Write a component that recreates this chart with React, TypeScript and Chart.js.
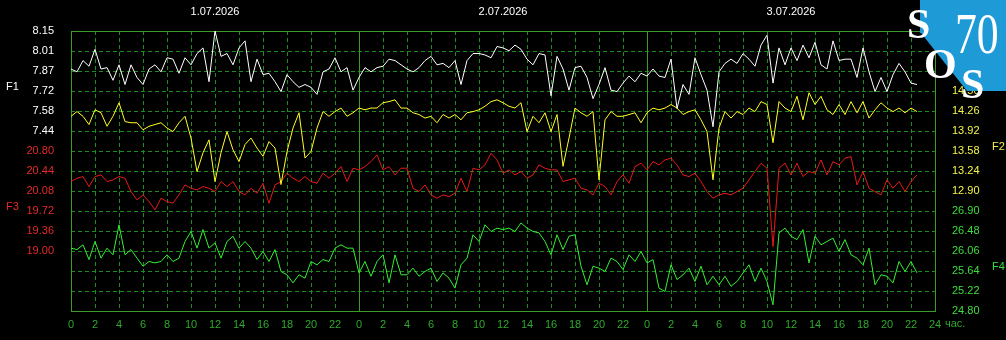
import React, { useEffect, useRef } from "react";
import { Chart, registerables } from "chart.js";

Chart.register(...registerables);

// ---------- data ----------
const STEP_HOURS = 0.5; // sampling interval of every series, hours from 1.07 00:00
const X_MAX_HOURS = 72;
const DATE_LABELS = ["1.07.2026", "2.07.2026", "3.07.2026"];
const HOURS_UNIT = "час.";
const SERIES_NAMES = ["F1", "F2", "F3", "F4"];

// left axis labels, one per grid row from the top (F1 rows then F3 rows)
const LEFT_TICK_LABELS = ["8.15", "8.01", "7.87", "7.72", "7.58", "7.44", "20.80", "20.44", "20.08", "19.72", "19.36", "19.00"];
// right axis labels, one per grid row from the top (F2 rows then F4 rows)
const RIGHT_TICK_LABELS = ["", "", "", "14.50", "14.26", "13.92", "13.58", "13.24", "12.90", "26.90", "26.48", "26.06", "25.64", "25.22", "24.80"];

// value ranges (bottom, top) of each series over the full plot height
const F1_RANGE = [6.162, 8.15];
const F2_RANGE = [10.86, 15.62];
const F3_RANGE = [17.92, 22.96];
const F4_RANGE = [24.8, 30.68];

const F1_VALUES = [
  7.88, 7.86, 7.94, 7.90, 8.02, 7.88, 7.89, 7.80, 7.91, 7.77,
  7.91, 7.82, 7.77, 7.88, 7.91, 7.86, 7.96, 7.95, 7.85, 7.96,
  7.91, 7.99, 8.03, 7.79, 8.15, 7.97, 7.99, 7.91, 8.03, 8.08,
  7.79, 7.95, 7.84, 7.85, 7.79, 7.72, 7.84, 7.79, 7.75, 7.77,
  7.75, 7.70, 7.86, 7.88, 7.96, 7.86, 7.89, 7.73, 7.82,
  7.89, 7.86, 7.89, 7.90, 7.95, 7.94, 7.91, 7.88, 7.86, 7.89,
  7.94, 7.97, 7.91, 7.92, 7.89, 7.94, 7.77, 7.94, 7.99, 7.99,
  7.98, 7.96, 8.04, 8.03, 8.01, 8.05, 8.02, 7.95, 7.91, 7.99,
  7.98, 7.69, 7.97, 7.88, 7.73, 7.89, 7.90, 7.82, 7.67, 7.77,
  7.89, 7.73, 7.72, 7.78, 7.83, 7.79, 7.85, 7.83,
  7.88, 7.83, 7.82, 7.95, 7.60, 7.77, 7.70, 7.96, 7.84, 7.73,
  7.47, 7.86, 7.92, 7.95, 7.92, 7.99, 7.95, 7.90, 8.05, 8.12,
  7.78, 8.03, 7.91, 8.03, 7.94, 8.05, 7.96, 8.07, 7.91, 7.88,
  8.08, 7.94, 7.95, 7.95, 7.82, 8.03, 7.86, 7.72, 7.82, 7.72,
  7.84, 7.92, 7.86, 7.78, 7.77,
];

const F2_VALUES = [
  14.17, 14.25, 14.17, 14.03, 14.28, 14.23, 14.00, 14.17, 14.40, 14.08,
  14.06, 14.06, 13.94, 14.00, 14.03, 14.06, 13.97, 13.91, 14.06, 14.17,
  13.80, 13.23, 13.55, 13.77, 13.06, 13.55, 13.91, 13.60, 13.40, 13.69,
  13.80, 13.63, 13.49, 13.74, 13.63, 13.01, 13.57, 13.97, 14.23, 13.46,
  13.57, 13.97, 14.25, 14.17, 14.25, 14.31, 14.17, 14.23, 14.31,
  14.28, 14.31, 14.31, 14.40, 14.42, 14.45, 14.31, 14.31, 14.23, 14.20,
  14.14, 14.17, 14.06, 14.20, 14.14, 14.20, 14.11, 14.23, 14.25, 14.28,
  14.34, 14.42, 14.45, 14.40, 14.34, 14.31, 14.40, 13.91, 14.17, 14.06,
  14.23, 13.91, 14.20, 13.32, 13.80, 14.31, 14.23, 14.17, 14.25, 13.09,
  14.11, 14.25, 14.17, 14.17, 14.20, 14.23, 14.06, 14.23,
  14.31, 14.28, 14.31, 14.37, 14.31, 14.20, 14.25, 14.28, 14.11, 13.91,
  13.09, 13.97, 14.25, 14.14, 14.25, 14.20, 14.31, 14.25, 14.42, 14.37,
  13.72, 14.42, 14.31, 14.25, 14.51, 14.11, 14.57, 14.37, 14.51, 14.28,
  14.20, 14.37, 14.20, 14.42, 14.23, 14.42, 14.14, 14.28, 14.40, 14.31,
  14.25, 14.31, 14.23, 14.31, 14.25,
];

const F3_VALUES = [
  20.25, 20.31, 20.34, 20.16, 20.34, 20.37, 20.25, 20.28, 20.34, 20.31,
  20.07, 19.92, 20.01, 19.89, 19.74, 19.95, 19.89, 19.86, 20.01, 20.19,
  20.13, 20.10, 20.16, 20.13, 20.07, 20.25, 20.16, 20.25, 20.07, 20.01,
  20.13, 20.04, 20.22, 19.86, 20.19, 20.25, 20.40, 20.31, 20.25, 20.34,
  20.25, 20.22, 20.40, 20.31, 20.40, 20.52, 20.25, 20.49, 20.46,
  20.52, 20.61, 20.73, 20.46, 20.52, 20.37, 20.49, 20.49, 20.13, 20.07,
  20.19, 20.01, 19.95, 20.01, 19.98, 20.04, 20.31, 20.07, 20.49, 20.46,
  20.55, 20.76, 20.64, 20.40, 20.46, 20.37, 20.43, 20.31, 20.37, 20.55,
  20.49, 20.46, 20.46, 20.25, 20.28, 20.31, 20.13, 20.10, 20.01, 20.22,
  20.16, 20.01, 20.25, 20.37, 20.22, 20.52, 20.58, 20.46,
  20.61, 20.55, 20.64, 20.67, 20.55, 20.37, 20.34, 20.40, 20.25, 20.07,
  19.95, 20.01, 20.04, 20.01, 20.07, 20.13, 20.28, 20.43, 20.58, 20.49,
  19.08, 20.49, 20.58, 20.37, 20.58, 20.34, 20.43, 20.40, 20.64, 20.37,
  20.61, 20.55, 20.67, 20.70, 20.19, 20.43, 20.13, 20.07, 20.01, 20.28,
  20.13, 20.25, 20.07, 20.25, 20.37,
];

const F4_VALUES = [
  26.12, 26.09, 26.19, 25.88, 26.26, 25.91, 26.12, 25.98, 26.61, 25.98,
  26.09, 25.91, 25.74, 25.84, 25.81, 25.84, 25.98, 25.84, 25.91, 26.26,
  26.47, 26.12, 26.51, 26.12, 26.23, 25.91, 26.26, 26.37, 26.12, 26.26,
  26.12, 25.88, 26.05, 25.84, 26.09, 25.63, 25.56, 25.39, 25.56, 25.49,
  25.84, 25.77, 25.88, 25.84, 26.12, 26.19, 26.12, 26.12, 25.60,
  25.84, 25.53, 25.84, 25.98, 25.39, 25.98, 25.56, 25.56, 25.70, 25.53,
  25.63, 25.70, 25.42, 25.60, 25.49, 25.28, 25.77, 25.91, 26.40, 26.26,
  26.61, 26.47, 26.54, 26.51, 26.54, 26.47, 26.65, 26.54, 26.47, 26.44,
  26.26, 25.98, 26.40, 26.09, 26.37, 26.40, 25.74, 25.35, 25.74, 25.70,
  25.63, 25.91, 25.84, 25.67, 25.98, 25.84, 26.05, 25.81,
  25.88, 25.28, 25.21, 25.77, 25.46, 25.56, 25.70, 25.42, 25.74, 25.35,
  25.53, 25.35, 25.53, 25.32, 25.42, 25.60, 25.77, 25.42, 25.70, 25.42,
  24.93, 26.44, 26.54, 26.37, 26.30, 26.51, 25.81, 26.37, 26.19, 26.26,
  26.33, 26.05, 26.30, 25.98, 25.91, 25.77, 26.12, 25.35, 25.56, 25.53,
  25.39, 25.84, 25.63, 25.84, 25.60,
];

// ---------- styles ----------
const FONT = '"Liberation Sans", Arial, sans-serif';
const GRID_COLOR = "#1e8c1e";
const AXIS_COLOR = "#3c9c28";
const X_LABEL_COLOR = "#2fa82f";
const F1_COLOR = "#ffffff";
const F2_COLOR = "#ffff22";
const F2_LABEL = "#f4f44a";
const F3_COLOR = "#e81818";
const F3_LABEL = "#e62a2a";
const F4_COLOR = "#33f033";
const F4_LABEL = "#3ede3e";
const LOGO_BLUE = "#1e9bd7";
const GRID_ROWS = 14;
const DASH_ON = 4;
const DASH_OFF = 3;

const toPoints = (vals: number[]) => vals.map((v, i) => ({ x: i * STEP_HOURS, y: v }));

const decorPlugin = {
  id: "decor",
  beforeDraw(chart: any) {
    const { ctx, width, height } = chart;
    ctx.save();
    ctx.fillStyle = "#000";
    ctx.fillRect(0, 0, width, height);
    ctx.restore();
  },
  beforeDatasetsDraw(chart: any) {
    const { ctx, chartArea: a, scales } = chart;
    const xs = scales.x;
    const gs = scales.gl;
    const L = Math.round(a.left);
    const R = Math.round(a.right);
    const T = Math.round(a.top);
    const B = Math.round(a.bottom);
    ctx.save();
    ctx.fillStyle = GRID_COLOR;
    for (let g = 1; g < GRID_ROWS; g++) {
      const y = Math.round(gs.getPixelForValue(g));
      for (let x = L; x < R; x += DASH_ON + DASH_OFF) ctx.fillRect(x, y, Math.min(DASH_ON, R - x), 1);
    }
    for (let h = 2; h < X_MAX_HOURS; h += 2) {
      if (h % 24 === 0) continue;
      const x = Math.round(xs.getPixelForValue(h));
      for (let y = T; y < B; y += DASH_ON + DASH_OFF) ctx.fillRect(x, y, 1, Math.min(DASH_ON, B - y));
    }
    ctx.fillStyle = AXIS_COLOR;
    for (let h = 0; h <= X_MAX_HOURS; h += 24) {
      const x = Math.round(xs.getPixelForValue(h));
      ctx.fillRect(x, T, 1, B - T + 1);
    }
    ctx.fillRect(L, T, R - L + 1, 1);
    ctx.fillRect(L, B, R - L + 1, 1);
    ctx.restore();
  },
  afterDraw(chart: any) {
    const { ctx, chartArea: a, scales, width } = chart;
    const xs = scales.x;
    const gs = scales.gl;
    ctx.save();
    ctx.font = `11px ${FONT}`;
    ctx.textBaseline = "middle";
    // dates
    ctx.fillStyle = "#ffffff";
    ctx.textAlign = "center";
    DATE_LABELS.forEach((d, i) => ctx.fillText(d, xs.getPixelForValue(12 + 24 * i), 12));
    // series names
    ctx.textAlign = "left";
    ctx.fillStyle = F1_COLOR;
    ctx.fillText(SERIES_NAMES[0], 6, gs.getPixelForValue(2.8));
    ctx.fillStyle = F3_LABEL;
    ctx.fillText(SERIES_NAMES[2], 6, gs.getPixelForValue(8.8));
    ctx.fillStyle = F2_LABEL;
    ctx.fillText(SERIES_NAMES[1], a.right + 57, gs.getPixelForValue(5.8));
    ctx.fillStyle = F4_LABEL;
    ctx.fillText(SERIES_NAMES[3], a.right + 57, gs.getPixelForValue(11.8));
    // hours unit
    ctx.fillStyle = X_LABEL_COLOR;
    ctx.textBaseline = "top";
    ctx.fillText(HOURS_UNIT, a.right + 10, a.bottom + 7);
    // logo
    const L = width - 86;
    ctx.fillStyle = LOGO_BLUE;
    ctx.beginPath();
    ctx.moveTo(L, 0);
    ctx.lineTo(width, 0);
    ctx.lineTo(width, 91);
    ctx.lineTo(L + 47, 91);
    ctx.lineTo(L + 1, 33);
    ctx.lineTo(L, 33);
    ctx.closePath();
    ctx.fill();
    ctx.fillStyle = "#ffffff";
    ctx.textBaseline = "alphabetic";
    ctx.textAlign = "left";
    ctx.font = 'bold 42px "Liberation Serif", "DejaVu Serif", serif';
    ctx.fillText("S", L - 13, 38);
    ctx.fillText("O", L + 4, 78);
    ctx.fillText("S", L + 41, 98);
    ctx.translate(L + 35, 53);
    ctx.scale(0.78, 1);
    ctx.font = '56px "Liberation Serif", "DejaVu Serif", serif';
    ctx.fillText("70", 0, 0);
    ctx.restore();
  },
};

export default function App() {
  const ref = useRef<HTMLCanvasElement>(null);
  useEffect(() => {
    document.body.style.margin = "0";
    document.body.style.background = "#000";
    const dataset = (label: string, vals: number[], color: string, axis: string) => ({
      label,
      data: toPoints(vals),
      borderColor: color,
      borderWidth: 1,
      pointRadius: 0,
      fill: false,
      tension: 0,
      yAxisID: axis,
    });
    const hidden = (range: number[]) => ({ type: "linear", display: false, min: range[0], max: range[1] });
    const chart = new Chart(ref.current as HTMLCanvasElement, {
      type: "line",
      data: {
        datasets: [
          dataset(SERIES_NAMES[0], F1_VALUES, F1_COLOR, "y1"),
          dataset(SERIES_NAMES[1], F2_VALUES, F2_COLOR, "y2"),
          dataset(SERIES_NAMES[2], F3_VALUES, F3_COLOR, "y3"),
          dataset(SERIES_NAMES[3], F4_VALUES, F4_COLOR, "y4"),
        ],
      },
      options: {
        animation: false,
        responsive: false,
        devicePixelRatio: 1,
        events: [],
        layout: { padding: { top: 31, left: 0, right: 0, bottom: 0 } },
        plugins: { legend: { display: false }, tooltip: { enabled: false } },
        scales: {
          x: {
            type: "linear",
            min: 0,
            max: X_MAX_HOURS,
            grid: { display: false, drawTicks: false },
            border: { display: false },
            ticks: {
              stepSize: 2,
              autoSkip: false,
              maxRotation: 0,
              padding: 7,
              color: X_LABEL_COLOR,
              font: { family: FONT, size: 11 },
              callback: (v: any) => (v === X_MAX_HOURS ? "24" : String(Number(v) % 24)),
            },
            afterFit: (s: any) => {
              s.height = 29;
            },
          },
          gl: {
            type: "linear",
            position: "left",
            min: 0,
            max: GRID_ROWS,
            reverse: true,
            grid: { display: false, drawTicks: false },
            border: { display: false },
            ticks: {
              stepSize: 1,
              autoSkip: false,
              padding: 17,
              font: { family: FONT, size: 11 },
              color: (c: any) => (c.tick && c.tick.value < 6 ? F1_COLOR : F3_LABEL),
              callback: (v: any) => LEFT_TICK_LABELS[Number(v)] ?? "",
            },
            afterFit: (s: any) => {
              s.width = 71;
            },
          },
          gr: {
            type: "linear",
            position: "right",
            min: 0,
            max: GRID_ROWS,
            reverse: true,
            grid: { display: false, drawTicks: false },
            border: { display: false },
            ticks: {
              stepSize: 1,
              autoSkip: false,
              padding: 17,
              font: { family: FONT, size: 11 },
              color: (c: any) => (c.tick && c.tick.value <= 8 ? F2_LABEL : F4_LABEL),
              callback: (v: any) => RIGHT_TICK_LABELS[Number(v)] ?? "",
            },
            afterFit: (s: any) => {
              s.width = 71;
            },
          },
          y1: hidden(F1_RANGE),
          y2: hidden(F2_RANGE),
          y3: hidden(F3_RANGE),
          y4: hidden(F4_RANGE),
        },
      } as any,
      plugins: [decorPlugin],
    } as any);
    return () => chart.destroy();
  }, []);
  return <canvas ref={ref} width={1006} height={340} style={{ display: "block", width: 1006, height: 340 }} />;
}
